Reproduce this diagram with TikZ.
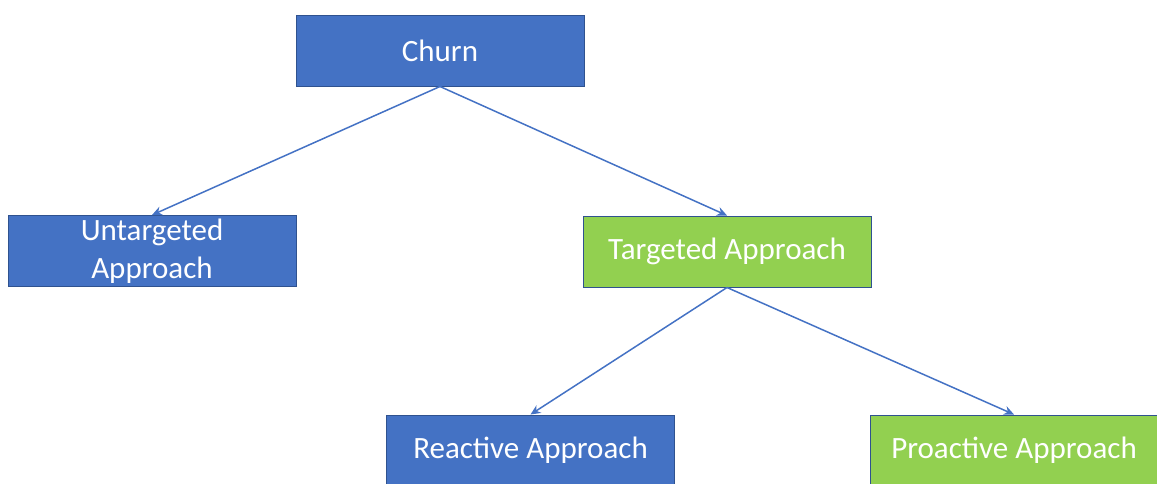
\documentclass[tikz,border=0pt]{standalone}
\usepackage{fontspec}
\setmainfont{Carlito}
\usepackage{tikz}
\usetikzlibrary{arrows.meta}

\definecolor{boxblue}{HTML}{4472C4}
\definecolor{boxgreen}{HTML}{92D050}
\definecolor{edgeblue}{HTML}{2F528F}

\begin{document}
\begin{tikzpicture}[x=1pt, y=-1pt,
	box/.style={draw=edgeblue, line width=1pt, text=white, minimum width=288pt, minimum height=71pt, inner sep=0pt, align=center, font=\fontsize{31}{38}\selectfont},
	bluebox/.style={box, fill=boxblue},
	greenbox/.style={box, fill=boxgreen},
	link/.style={draw=boxblue, line width=1.5pt, -{Stealth[length=10pt, width=9pt]}}]
	\useasboundingbox (0,0) rectangle (1157,483);
	
	% draw boxes
	\node[bluebox] (churn) at (440,50.5) {Churn};
	\node[bluebox] (untargeted) at (152,251) {Untargeted\\Approach};
	\node[greenbox] (targeted) at (727,251.5) {Targeted Approach};
	\node[bluebox] (reactive) at (530.5,450.5) {Reactive Approach};
	\node[greenbox] (proactive) at (1014,450.5) {Proactive Approach};
	
	% draw arrows
	\foreach \a/\b in {churn/untargeted, churn/targeted, targeted/reactive, targeted/proactive}
	\draw[link] (\a.south) -- (\b.north);
\end{tikzpicture}
\end{document}
